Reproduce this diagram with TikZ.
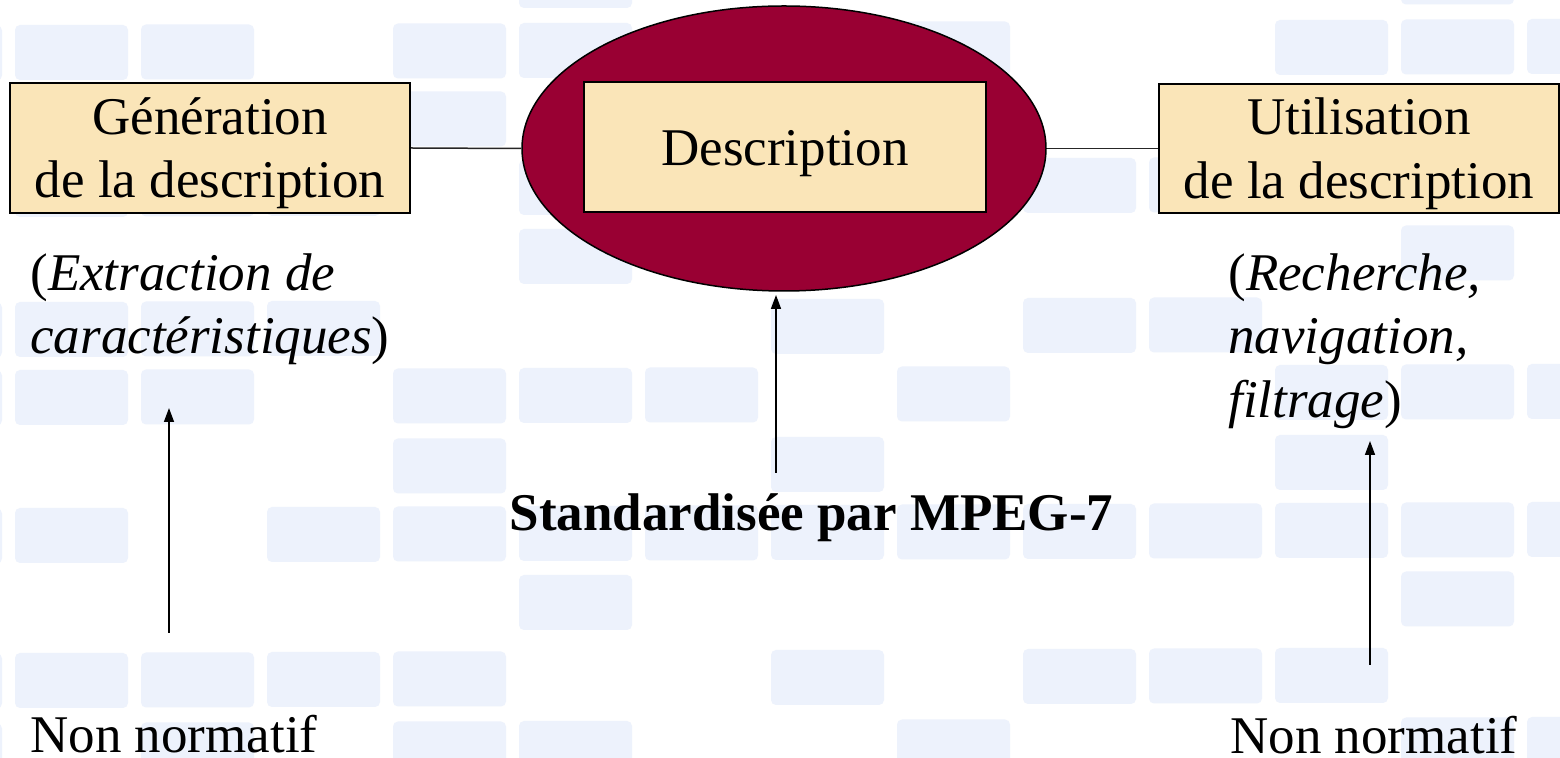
\documentclass[tikz,border=0pt]{standalone}
\usepackage{fontspec}
\setmainfont{Liberation Serif}
\usetikzlibrary{shapes.geometric,arrows.meta}

\definecolor{tileblue}{RGB}{237,242,252}
\definecolor{boxfill}{RGB}{250,229,184}
\definecolor{ovalred}{RGB}{153,0,51}

% vertical struts that fix where the lines sit inside the boxes
\newcommand\mytopstrut{\rule{0pt}{24pt}}
\newcommand\mybotstrut{\rule[-6pt]{0pt}{6pt}}

\begin{document}
\begin{tikzpicture}[x=0.5pt,y=-0.5pt,
  tile/.style={fill=tileblue,rounded corners=2.5pt},
  bigfont/.style={font=\fontsize{26.5pt}{31.75pt}\selectfont},
  labelbox/.style={bigfont,draw=black,line width=1pt,fill=boxfill,
    inner sep=0pt,align=center},
  note/.style={bigfont,inner sep=0pt,align=left},
  link/.style={draw=black!85,line width=0.75pt},
  pointer/.style={draw=black,line width=0.75pt,-{Triangle[length=7pt,width=5pt]}}
]
\useasboundingbox (0,0) rectangle (1560,758);
\fill[white] (0,0) rectangle (1560,758);

% faint grid of tiles in the background
\foreach \y/\cols in {
  -45/{4,11},
  25/{-1,0,1,3,4,7,10,11,12},
  93/{0,1,3},
  162/{0,1,2,4,8,9},
  231/{4,11},
  302/{-1,0,1,2,6,8,9},
  370/{-1,0,1,3,4,5,7,10,11,12},
  440/{3,6,10},
  508/{-1,0,2,3,4,5,6,7,8,9,10,11,12},
  577/{4,11},
  653/{-1,0,1,2,3,6,8,9,10},
  723/{-1,1,3,4,7,11,12}}{
  \foreach \c in \cols {
    \fill[tile] ({15+126*\c},{\y-0.5*\c}) rectangle +(113,55);
  }
}

% central oval with the description box
\node[ellipse,draw=black,line width=0.75pt,fill=ovalred,
  minimum width=262pt,minimum height=142.5pt,inner sep=0pt] (ell) at (784,148.5) {};
\node[labelbox,minimum width=201pt,minimum height=65pt] (desc) at (785,147.5)
  {\mytopstrut Description\mybotstrut};

% side boxes
\node[labelbox,minimum width=200pt,minimum height=65pt] (gen) at (210,148)
  {\mytopstrut G\'en\'eration\\de la description\mybotstrut};
\node[labelbox,minimum width=200pt,minimum height=64.5pt] (util) at (1359,148.5)
  {\mytopstrut Utilisation\\de la description\mybotstrut};

\draw[link] (gen.east) -- (ell.west);
\draw[link] (ell.east) -- (util.west);

% explanatory notes
\node[note,anchor=north west] (ext) at (30,242)
  {\mytopstrut(\textit{Extraction de}\\\textit{caract\'eristiques})};
\node[note,anchor=north west] (rech) at (1228,242)
  {\mytopstrut(\textit{Recherche,}\\\textit{navigation,}\\\textit{filtrage})};
\node[bigfont,inner sep=0pt,anchor=base] (std) at (811.5,531)
  {\textbf{Standardis\'ee par MPEG-7}};
\node[bigfont,inner sep=0pt,anchor=base west] (non1) at (30,753) {Non normatif};
\node[bigfont,inner sep=0pt,anchor=base west] (non2) at (1230,754) {Non normatif};

% upward pointers
\coordinate (p1s) at (169,633);
\coordinate (p1e) at (169,408);
\coordinate (p2s) at (776,473);
\coordinate (p2e) at (776,295);
\coordinate (p3s) at (1370,665);
\coordinate (p3e) at (1370,441);
\draw[pointer] (p1s) -- (p1e);
\draw[pointer] (p2s) -- (p2e);
\draw[pointer] (p3s) -- (p3e);
\end{tikzpicture}
\end{document}
